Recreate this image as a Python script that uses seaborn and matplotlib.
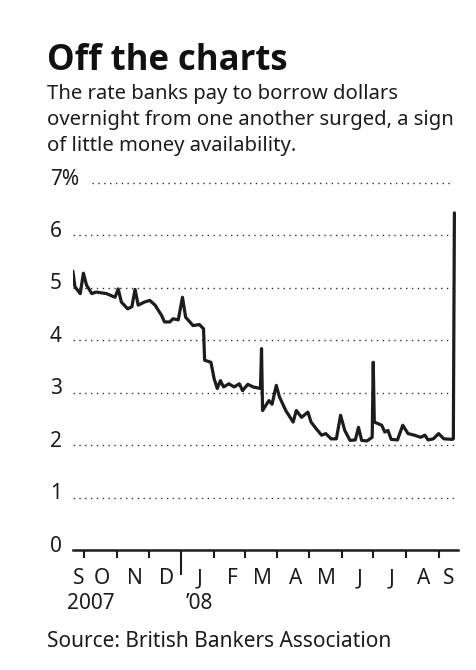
import matplotlib
matplotlib.use("Agg")
import matplotlib.pyplot as plt
from matplotlib.transforms import offset_copy
import pandas as pd
import seaborn as sns

# Overnight dollar LIBOR, percent
dates = [
    "2007-09-20", "2007-09-22", "2007-09-27", "2007-09-30", "2007-10-03",
    "2007-10-08", "2007-10-12", "2007-10-22", "2007-10-30", "2007-11-02",
    "2007-11-05", "2007-11-11", "2007-11-15", "2007-11-18", "2007-11-21",
    "2007-11-27", "2007-12-02", "2007-12-07", "2007-12-13", "2007-12-16",
    "2007-12-21", "2007-12-24", "2007-12-29", "2008-01-02", "2008-01-05",
    "2008-01-09", "2008-01-12", "2008-01-18", "2008-01-22", "2008-01-23",
    "2008-01-29", "2008-02-01", "2008-02-04", "2008-02-07", "2008-02-10",
    "2008-02-15", "2008-02-20", "2008-02-25", "2008-02-28", "2008-03-04",
    "2008-03-09", "2008-03-16", "2008-03-17", "2008-03-18", "2008-03-24",
    "2008-03-27", "2008-03-31", "2008-04-03", "2008-04-09", "2008-04-16",
    "2008-04-19", "2008-04-24", "2008-04-30", "2008-05-03", "2008-05-08",
    "2008-05-13", "2008-05-17", "2008-05-22", "2008-05-27", "2008-05-31",
    "2008-06-04", "2008-06-09", "2008-06-14", "2008-06-17", "2008-06-20",
    "2008-06-25", "2008-06-30", "2008-07-01", "2008-07-02", "2008-07-09",
    "2008-07-12", "2008-07-15", "2008-07-18", "2008-07-24", "2008-07-29",
    "2008-08-03", "2008-08-09", "2008-08-15", "2008-08-19", "2008-08-22",
    "2008-08-27", "2008-09-01", "2008-09-06", "2008-09-14", "2008-09-15",
    "2008-09-16",
]
rates = [
    5.32, 5.02, 4.89, 5.28, 5.05,
    4.89, 4.92, 4.89, 4.82, 4.98,
    4.73, 4.60, 4.64, 4.97, 4.67,
    4.73, 4.76, 4.67, 4.48, 4.35,
    4.35, 4.41, 4.39, 4.82, 4.44,
    4.35, 4.28, 4.30, 4.22, 3.62,
    3.58, 3.27, 3.08, 3.23, 3.11,
    3.17, 3.11, 3.17, 3.04, 3.16,
    3.11, 3.08, 3.84, 2.66, 2.85,
    2.78, 3.14, 2.92, 2.66, 2.44,
    2.66, 2.53, 2.63, 2.44, 2.31,
    2.19, 2.22, 2.12, 2.12, 2.57,
    2.28, 2.09, 2.10, 2.34, 2.09,
    2.08, 2.15, 3.58, 2.44, 2.38,
    2.25, 2.28, 2.11, 2.10, 2.38,
    2.22, 2.19, 2.15, 2.19, 2.10,
    2.12, 2.22, 2.12, 2.11, 2.12,
    6.43,
]

y_ticks = [0, 1, 2, 3, 4, 5, 6, 7]
y_labels = ["0", "1", "2", "3", "4", "5", "6", "7%"]
month_labels = ["S", "O", "N", "D", "J", "F", "M", "A", "M", "J", "J", "A", "S"]
year_labels = ["2007", "\u201908"]

title = "Off the charts"
subtitle = [
    "The rate banks pay to borrow dollars",
    "overnight from one another surged, a sign",
    "of little money availability.",
]
source = "Source: British Bankers Association"

df = pd.DataFrame({"date": pd.to_datetime(dates), "rate": rates})

sns.set_style("white")
plt.rcParams["font.family"] = ["Noto Sans", "DejaVu Sans"]
INK = "#1c1c1c"

W, H = 477, 670
fig = plt.figure(figsize=(W / 100, H / 100), dpi=100)
fig.patch.set_facecolor("white")

def fx(px):
    return px / W

def fy(py):
    return 1 - py / H

ax = fig.add_axes([fx(73.3), fy(550), fx(458) - fx(73.3), fy(183) - fy(550)])
ax.set_facecolor("white")

sns.lineplot(data=df, x="date", y="rate", ax=ax, color=INK, linewidth=2.3,
             zorder=5, legend=False)

ax.set_xlim(pd.Timestamp("2007-09-20 10:00"), pd.Timestamp("2008-09-19 10:00"))
ax.set_ylim(0, 7)

# dotted gridlines
dots = (0, (1, 3.2))
for v in y_ticks[1:-1]:
    ax.axhline(v, color="#333333", linewidth=1.0, linestyle=dots, zorder=1)
ax.axhline(7, xmin=0.049, xmax=0.984, color="#333333", linewidth=1.0,
           linestyle=dots, zorder=1, clip_on=False)

for s in ["top", "right", "left"]:
    ax.spines[s].set_visible(False)
ax.spines["bottom"].set_color(INK)
ax.spines["bottom"].set_linewidth(1.8)
ax.spines["bottom"].set_zorder(6)

# month ticks, with a long tick at the turn of the year
month_starts = pd.date_range("2007-10-01", "2008-09-01", freq="MS")
ax.set_xticks([d for d in month_starts if d.month != 1], minor=True)
ax.set_xticks([pd.Timestamp("2008-01-01")])
ax.tick_params(axis="x", which="minor", bottom=True, direction="out",
               length=5.5, width=1.5, color=INK, labelbottom=False)
ax.tick_params(axis="x", which="major", bottom=True, direction="out",
               length=18, width=1.5, color=INK, labelbottom=False)
ax.set_yticks([])
ax.set_xlabel("")
ax.set_ylabel("")

# y labels at the left
ylab_tr = offset_copy(ax.get_yaxis_transform(), fig=fig, x=0, y=4, units="dots")
for v, lab in zip(y_ticks, y_labels):
    ax.text(-0.0606, v, lab, transform=ylab_tr, ha="left", va="center",
            fontsize=15, color=INK)

# month labels under the axis
label_dates = [pd.Timestamp("2007-09-26")] + \
    [pd.Timestamp(f"{d.year}-{d.month:02d}-18") for d in month_starts[:-1]] + \
    [pd.Timestamp("2008-09-11")]
xlab_tr = ax.get_xaxis_transform()
for d, lab in zip(label_dates, month_labels):
    ax.text(d, -0.078, lab, transform=xlab_tr, ha="center", va="center",
            fontsize=15, color=INK)

fig.text(fx(67), fy(609), year_labels[0], ha="left", va="baseline",
         fontsize=15, color=INK)
fig.text(fx(186), fy(609), year_labels[1], ha="left", va="baseline",
         fontsize=15, color=INK)

# headline block
fig.text(fx(47), fy(70), title, ha="left", va="baseline", fontsize=25,
         fontweight="bold", family=["Open Sans", "Roboto", "DejaVu Sans"],
         color="#111111")
for i, line in enumerate(subtitle):
    fig.text(fx(47), fy(99.5 + 26 * i), line, ha="left", va="baseline",
             fontsize=14.6, color=INK)

fig.text(fx(47), fy(647), source, ha="left", va="baseline", fontsize=15,
         color=INK)

fig.savefig("out.png", dpi=100, facecolor="white")
